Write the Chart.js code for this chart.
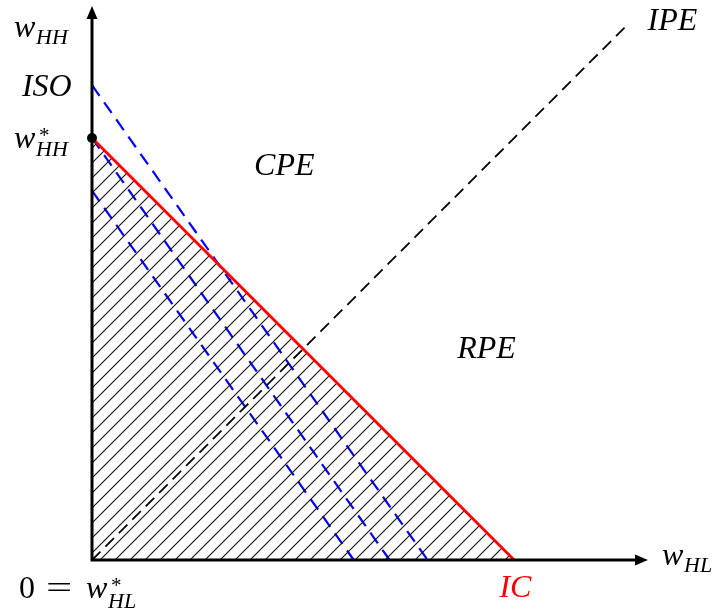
<!DOCTYPE html>
<html>
<head>
<meta charset="utf-8">
<script src="https://cdn.jsdelivr.net/npm/chart.js@4.4.1/dist/chart.umd.min.js"></script>
<style>
body { margin: 0; background: #fff; }
#wrap { width: 721px; height: 612px; }
</style>
</head>
<body>
<div id="wrap"><canvas id="chart"></canvas></div>
<script>
// data, in axis units (IC line hits both axes at 10)
const icLine = [{x: 0, y: 10}, {x: 10, y: 0}]
const isoHigh = [{x: 0, y: 11.25}, {x: 7.95, y: 0}]
const isoMid = [{x: 0, y: 10}, {x: 7.05, y: 0}]
const isoLow = [{x: 0, y: 8.75}, {x: 6.2, y: 0}]
const ipeLine = [{x: 0, y: 0}, {x: 12.65, y: 12.65}]
const optimum = [{x: 0, y: 10}]
const xMax = 13.17
const yMax = 13.15

// region labels (left edge / baseline, axis units)
const regionLabels = [
    {text: 'CPE', x: 3.84, y: 9.12, color: '#000'},
    {text: 'RPE', x: 8.65, y: 4.79, color: '#000'},
    {text: 'IPE', x: 13.16, y: 12.56, color: '#000'},
    {text: 'IC', x: 9.65, y: -0.88, color: '#ff0000'},
    {text: 'ISO', x: -1.66, y: 11.0, color: '#000'}
]

const BIG = 'italic 32px "Liberation Serif"'
const SMALL = 'italic 22px "Liberation Serif"'

const makeHatch = () => {
    const s = 15
    const c = document.createElement('canvas')
    c.width = s; c.height = s
    const g = c.getContext('2d')
    g.strokeStyle = '#111'
    g.lineWidth = 1.1
    g.beginPath()
    g.moveTo(0, s); g.lineTo(s, 0)
    g.moveTo(-2, 2); g.lineTo(2, -2)
    g.moveTo(s - 2, s + 2); g.lineTo(s + 2, s - 2)
    g.stroke()
    return g.createPattern(c, 'repeat')
}

const txt = (ctx, s, x, y, font, color) => {
    ctx.font = font
    ctx.fillStyle = color || '#000'
    ctx.fillText(s, x, y)
}

const axesPlugin = {
    id: 'axesArrows',
    afterDatasetsDraw(chart) {
        const ctx = chart.ctx
        const a = chart.chartArea
        ctx.save()
        ctx.strokeStyle = '#000'
        ctx.fillStyle = '#000'
        ctx.lineWidth = 3
        ctx.lineCap = 'butt'
        ctx.beginPath()
        ctx.moveTo(a.left, a.bottom + 1.5)
        ctx.lineTo(a.left, a.top + 8)
        ctx.moveTo(a.left - 1.5, a.bottom)
        ctx.lineTo(a.right - 8, a.bottom)
        ctx.stroke()
        // arrow heads
        ctx.beginPath()
        ctx.moveTo(a.left, a.top + 1)
        ctx.lineTo(a.left - 5.5, a.top + 14)
        ctx.lineTo(a.left + 5.5, a.top + 14)
        ctx.closePath()
        ctx.fill()
        ctx.beginPath()
        ctx.moveTo(a.right, a.bottom)
        ctx.lineTo(a.right - 13, a.bottom - 5.5)
        ctx.lineTo(a.right - 13, a.bottom + 5.5)
        ctx.closePath()
        ctx.fill()
        ctx.restore()
    },
    afterDraw(chart) {
        const ctx = chart.ctx
        const xs = chart.scales.x
        const ys = chart.scales.y
        const a = chart.chartArea
        ctx.save()
        ctx.textBaseline = 'alphabetic'
        regionLabels.forEach(l => {
            txt(ctx, l.text, xs.getPixelForValue(l.x), ys.getPixelForValue(l.y), BIG, l.color)
        })
        // w_HH (axis title)
        txt(ctx, 'w', a.left - 78, a.top + 32, BIG)
        txt(ctx, 'HH', a.left - 56, a.top + 39, SMALL)
        // w*_HH at the optimum
        const oy = ys.getPixelForValue(10)
        txt(ctx, 'w', a.left - 78, oy + 10, BIG)
        ctx.font = '21px "Liberation Serif"'
        ctx.fillText('*', a.left - 53, oy + 4)
        txt(ctx, 'HH', a.left - 56, oy + 18, SMALL)
        // 0 = w*_HL
        txt(ctx, '0', a.left - 73, a.bottom + 38, '32px "Liberation Serif"')
        ctx.save()
        ctx.translate(a.left - 46, a.bottom + 38)
        ctx.scale(1.45, 1)
        txt(ctx, '=', 0, 0, '32px "Liberation Serif"')
        ctx.restore()
        txt(ctx, 'w', a.left - 6, a.bottom + 38, BIG)
        ctx.font = '21px "Liberation Serif"'
        ctx.fillText('*', a.left + 19, a.bottom + 32)
        txt(ctx, 'HL', a.left + 16, a.bottom + 48, SMALL)
        // w_HL (axis title)
        txt(ctx, 'w', a.right + 14, a.bottom + 5, BIG)
        txt(ctx, 'HL', a.right + 36, a.bottom + 12, SMALL)
        ctx.restore()
    }
}

const line = (data, color, width, dash, order, extra) => Object.assign({
    data: data,
    showLine: true,
    borderColor: color,
    borderWidth: width,
    borderDash: dash,
    pointRadius: 0,
    fill: false,
    order: order
}, extra || {})

const ctx = document.getElementById('chart').getContext('2d')
new Chart(ctx, {
    type: 'scatter',
    data: {
        datasets: [
            line(icLine, '#ff0000', 2.8, [], 1, {fill: 'origin', backgroundColor: makeHatch()}),
            line(isoHigh, '#0000ff', 2.2, [13, 8], 3),
            line(isoMid, '#0000ff', 2.2, [13, 8], 3),
            line(isoLow, '#0000ff', 2.2, [13, 8], 3),
            line(ipeLine, '#000000', 1.8, [12, 7], 2),
            {data: optimum, pointRadius: 5, pointBackgroundColor: '#000', pointBorderWidth: 0, order: 0}
        ]
    },
    options: {
        responsive: true,
        maintainAspectRatio: false,
        animation: false,
        layout: {padding: {left: 92, right: 73, top: 5, bottom: 52}},
        scales: {
            x: {type: 'linear', min: 0, max: xMax, display: false},
            y: {type: 'linear', min: 0, max: yMax, display: false}
        },
        plugins: {
            legend: {display: false},
            tooltip: {enabled: false}
        },
        clip: false
    },
    plugins: [axesPlugin]
})
</script>
</body>
</html>
